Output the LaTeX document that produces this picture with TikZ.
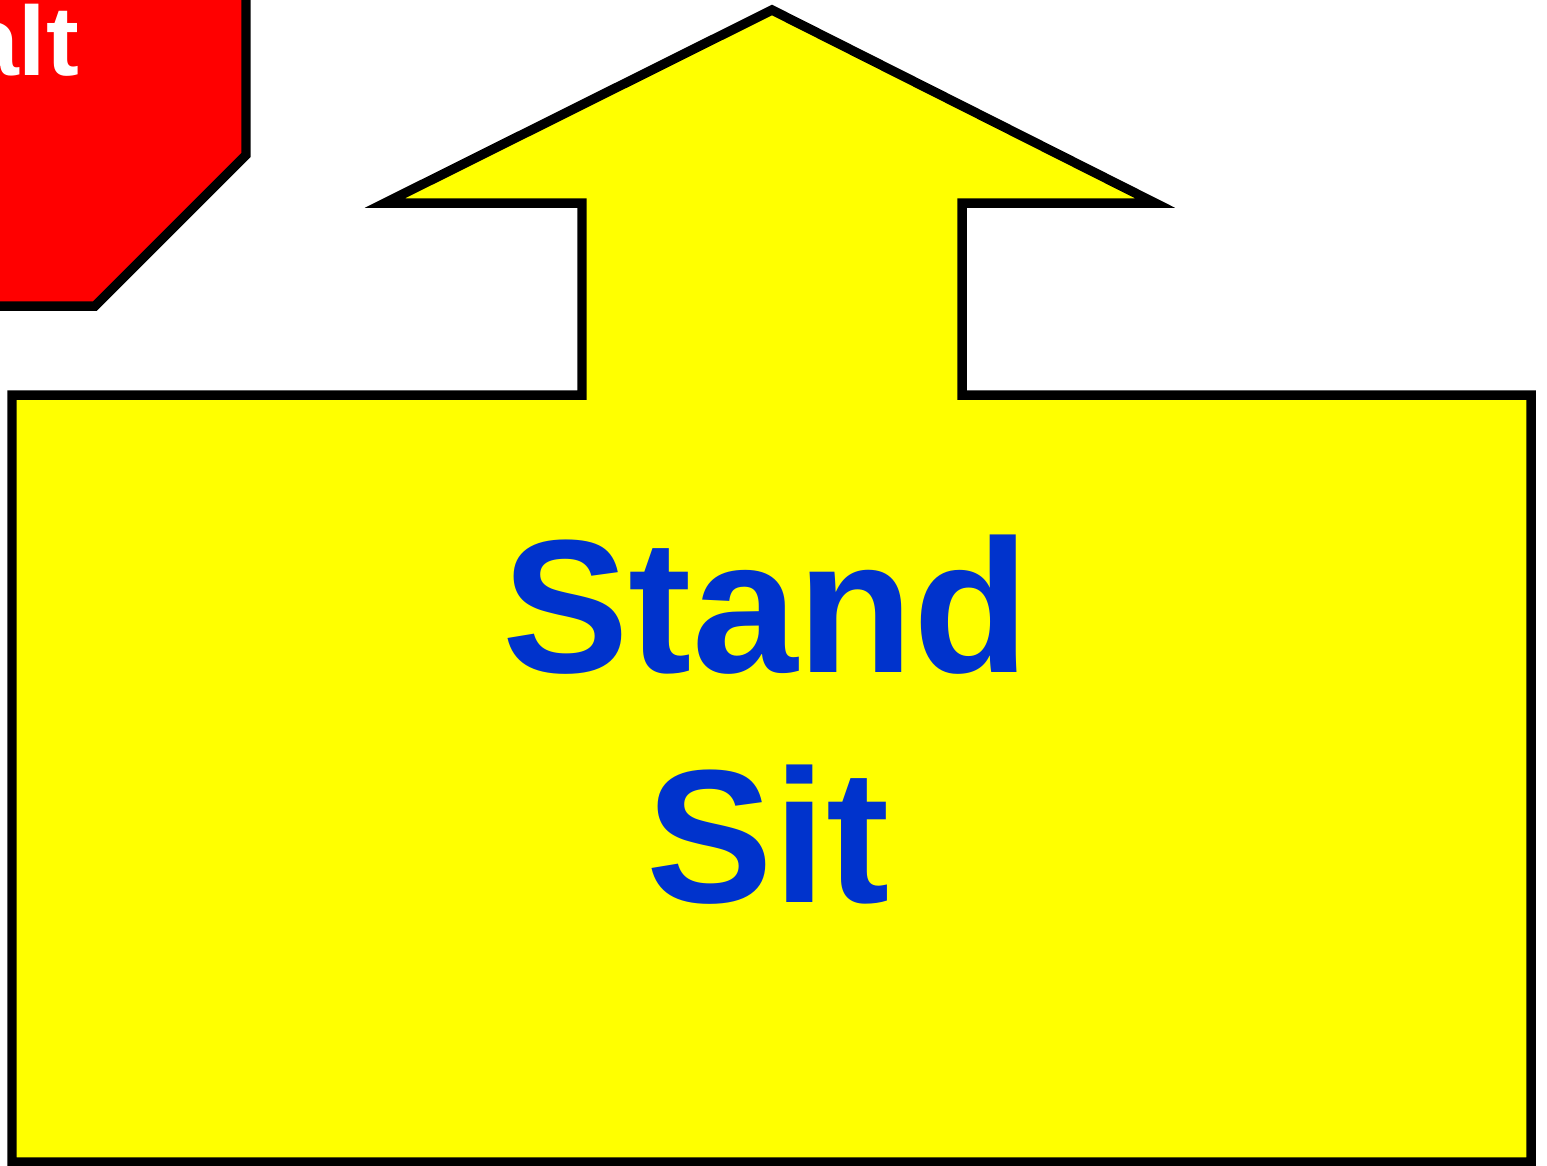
\documentclass[tikz,border=0pt]{standalone}
\usepackage{fontspec}
\setmainfont{Liberation Sans}
\definecolor{bleuFonce}{RGB}{0,51,204}
\definecolor{jaune}{RGB}{255,255,0}
\definecolor{rougeVif}{RGB}{255,0,0}
\begin{document}
\begin{tikzpicture}[x=0.01cm,y=-0.01cm]
\tikzstyle{contour} = [draw=black,line width=2.7pt,miter limit=10];
\tikzstyle{grand} = [text=bleuFonce,font=\fontsize{54}{65}\selectfont\bfseries,align=center];
\tikzstyle{petit} = [text=white,font=\fontsize{28}{34}\selectfont\bfseries];

\clip (0,0) rectangle (1547,1166);

% panneau rouge
\fill[rougeVif,contour] (246,-70) -- (246,155) -- (95,306) -- (-120,306) -- (-120,-70) -- cycle;
\node[petit,anchor=base] (halt) at (-14,75) {Halt};

% fleche jaune
\fill[jaune,contour] (12,395) -- (582,395) -- (582,203) -- (385,203) -- (772,10)
	-- (1155,203) -- (962,203) -- (962,395) -- (1531,395) -- (1531,1162) -- (12,1162) -- cycle;

\node[grand,anchor=base] (stand) at (766,672) {Stand};
\node[grand,anchor=base] (sit) at (768,902) {Sit};

\end{tikzpicture}
\end{document}
